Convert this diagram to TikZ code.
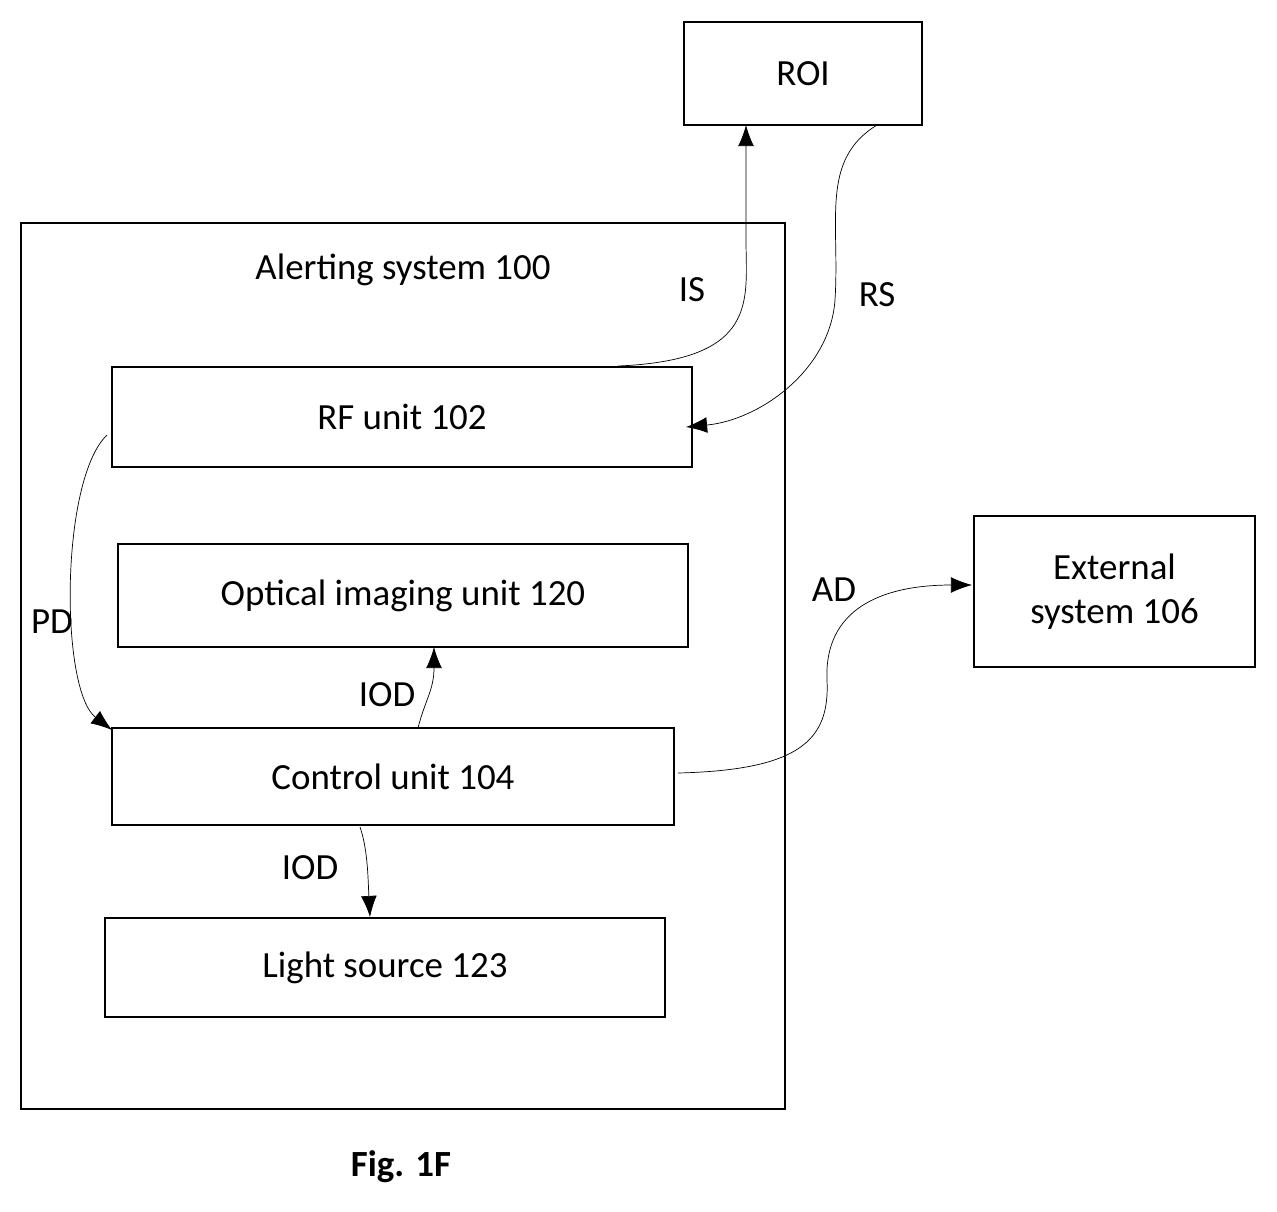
\documentclass[tikz,border=0pt]{standalone}
\usepackage{fontspec}
\setmainfont{Carlito}
\usetikzlibrary{arrows.meta,positioning}
\tikzset{
  unit/.style={draw, thick, minimum width=#1, inner sep=0pt, minimum height=2cm},
  sig/.style={-{Latex[length=12pt,width=9pt]}, thin},
  lbl/.style={font=\fontsize{21}{25}\selectfont}
}
\begin{document}
\begin{tikzpicture}[x=0.02cm,y=-0.02cm, every node/.style={font=\fontsize{21}{25}\selectfont}]
    \useasboundingbox (0,0) rectangle (1277,1211);
    % Boxes
    \node[unit=4.76cm, minimum height=2.06cm] (roi) at (803,73.5) {ROI};
    \node[draw, thick, minimum width=15.28cm, minimum height=17.72cm] (sys) at (403,666) {};
    \node (systxt) at (403,270) {Alerting system 100};
    \node[unit=11.6cm] (rf) at (402,417) {RF unit 102};
    \node[unit=11.4cm, minimum height=2.06cm] (opt) at (403,595.5) {Optical imaging unit 120};
    \node[unit=11.24cm, minimum height=1.94cm] (ctrl) at (393,776.5) {Control unit 104};
    \node[unit=11.2cm, minimum height=1.98cm] (light) at (385,967.5) {Light source 123};
    \node[unit=5.62cm, minimum height=3.02cm, align=center] (ext) at (1114.5,591.5) {External\\system 106};
    % Connectors
    \coordinate (isA) at (618,366);
    \coordinate (isB) at (746,125);
    \draw[sig] (isA) .. controls (760,360) and (746,300) .. (746,240) -- (isB);
    \coordinate (rsA) at (877,125);
    \coordinate (rsB) at (686,427);
    \draw[sig] (rsA) .. controls (820,160) and (840,220) .. (835,300) .. controls (830,370) and (760,420) .. (rsB);
    \coordinate (pdA) at (107,435);
    \coordinate (pdB) at (112,730);
    \draw[sig] (pdA) .. controls (60,480) and (60,690) .. (pdB);
    \coordinate (iodA) at (418,728);
    \coordinate (iodB) at (434,647);
    \draw[sig] (iodA) .. controls (425,700) and (434,690) .. (iodB);
    \coordinate (iodC) at (360,827);
    \coordinate (iodD) at (370,917);
    \draw[sig] (iodC) .. controls (368,850) and (368,880) .. (iodD);
    \coordinate (adA) at (678,773);
    \coordinate (adB) at (972,585);
    \draw[sig] (adA) .. controls (800,770) and (830,740) .. (827,680) .. controls (824,610) and (880,585) .. (adB);
    % Labels
    \node at (692,290) {IS};
    \node at (877,295) {RS};
    \node at (52,622) {PD};
    \node at (834,590) {AD};
    \node at (387,695) {IOD};
    \node at (310,868) {IOD};
    \node[font=\fontsize{21}{25}\selectfont\bfseries] at (401,1167) {Fig. 1F};
\end{tikzpicture}
\end{document}
